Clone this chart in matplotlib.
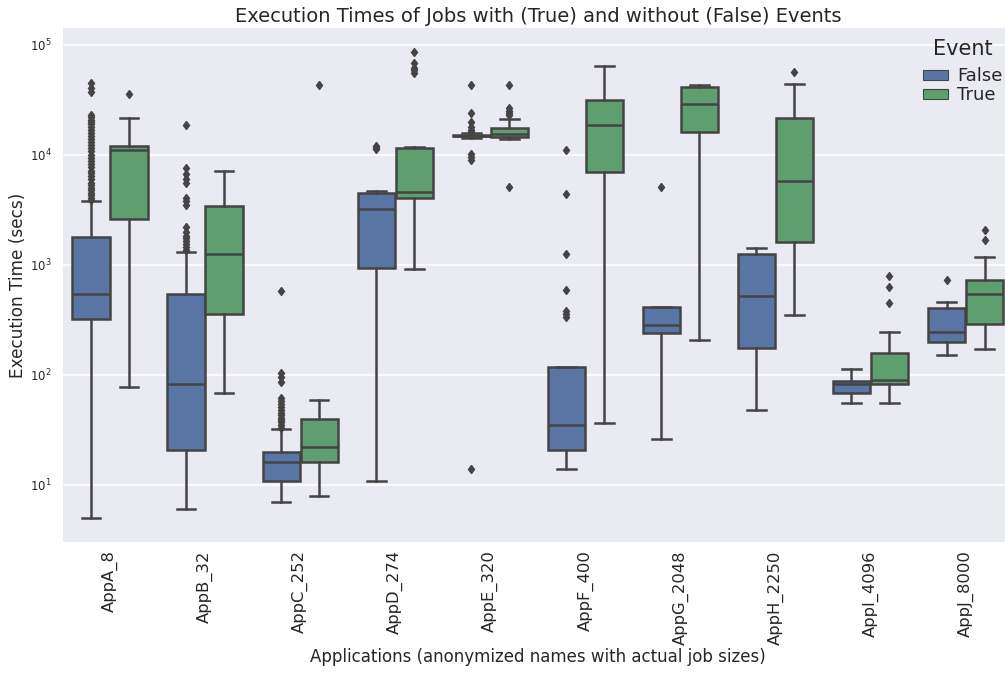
import matplotlib
matplotlib.use("Agg")
import matplotlib.pyplot as plt
from matplotlib.patches import Patch
import numpy as np

apps = ["AppA_8", "AppB_32", "AppC_252", "AppD_274", "AppE_320",
        "AppF_400", "AppG_2048", "AppH_2250", "AppI_4096", "AppJ_8000"]
hues = ["False", "True"]

# Event = False
false_wlo = [5, 6, 7, 10.9, 14200, 14, 26, 48, 56, 153]
false_q1 = [323, 20.6, 10.9, 933, 14900, 20.8, 243, 175, 68, 201]
false_med = [545, 82.8, 16, 3250, 15000, 34.9, 283, 526, 82.8, 246]
false_q3 = [1787, 545, 19.8, 4490, 15100, 118, 418, 1259, 87.8, 406]
false_whi = [3846, 1312, 32, 4710, 15950, 118, 418, 1420, 113, 461]
false_fliers = [
    [3900, 4100, 4300, 4500, 4800, 5000, 5300, 5600, 6000, 6400, 6800, 7200,
     7700, 8200, 8800, 9400, 10000, 10800, 11500, 12300, 13000, 14000, 15000,
     16000, 17000, 18000, 19000, 20000, 21000, 22000, 23000, 37700, 40500, 44900],
    [1370, 1450, 1550, 1650, 1750, 1850, 2000, 2215, 3510, 3800, 4070, 5560,
     6100, 6700, 7600, 18700],
    [33, 35, 37, 39, 41, 43, 45, 48, 51, 54, 58, 62, 87, 95, 105, 583],
    [11300, 11700, 12100],
    [14, 9000, 9600, 10300, 16300, 17000, 18000, 20100, 23900, 43300],
    [335, 360, 385, 589, 1250, 4450, 11100],
    [5150],
    [],
    [],
    [731],
]

# Event = True
true_wlo = [77.8, 68, 8, 914, 13970, 36.9, 209, 349, 56, 173]
true_q1 = [2636, 360, 16, 4040, 14700, 7050, 16300, 1620, 82, 291]
true_med = [11100, 1260, 22.2, 4610, 15600, 18600, 29100, 5850, 90, 548]
true_q3 = [12080, 3460, 40, 11500, 17700, 31600, 41200, 21500, 158, 731]
true_whi = [21700, 7200, 59, 11750, 21400, 64400, 43500, 44500, 248, 1190]
true_fliers = [
    [35900],
    [],
    [43300],
    [56000, 59000, 62000, 68200, 85800],
    [5150, 23100, 24000, 25000, 26600, 43300],
    [],
    [],
    [56500],
    [454, 636, 794],
    [1690, 2080],
]

colors = ["#5875a4", "#5f9e6e"]
line_col = "#444444"
text_col = "#262626"

fig = plt.figure(figsize=(10.05, 6.73), dpi=100)
ax = fig.add_axes([0.0622, 0.1947, 0.9458, 0.7637])
ax.set_facecolor("#EAEAF2")
for s in ax.spines.values():
    s.set_visible(False)
ax.set_yscale("log")
ax.grid(True, which="major", axis="y", color="white", linewidth=1.2)
ax.set_axisbelow(True)

groups = [
    (false_wlo, false_q1, false_med, false_q3, false_whi, false_fliers),
    (true_wlo, true_q1, true_med, true_q3, true_whi, true_fliers),
]
offsets = [-0.2, 0.2]
for h, (wlo, q1, med, q3, whi, fl) in enumerate(groups):
    stats = []
    for i in range(len(apps)):
        stats.append(dict(whislo=wlo[i], q1=q1[i], med=med[i], q3=q3[i],
                          whishi=whi[i], fliers=fl[i]))
    pos = np.arange(len(apps)) + offsets[h]
    ax.bxp(stats, positions=pos, widths=0.392, patch_artist=True,
           showfliers=True, manage_ticks=False,
           boxprops=dict(facecolor=colors[h], edgecolor=line_col, linewidth=1.8),
           medianprops=dict(color=line_col, linewidth=1.8),
           whiskerprops=dict(color=line_col, linewidth=1.8),
           capprops=dict(color=line_col, linewidth=1.8),
           flierprops=dict(marker="d", markerfacecolor=line_col,
                           markeredgecolor=line_col, markersize=4.5,
                           linestyle="none"))

ax.set_xlim(-0.5, len(apps) - 0.5)
ax.set_ylim(3.03, 1.427e5)
ax.set_xticks(np.arange(len(apps)))
ax.set_xticklabels(apps, rotation=90, fontsize=11.8, color=text_col)
ax.tick_params(axis="y", labelsize=8.5, colors=text_col, length=0, pad=8)
ax.tick_params(axis="x", length=0, pad=6)
ax.minorticks_off()
ax.set_ylabel("Execution Time (secs)", fontsize=12.2, color=text_col, labelpad=2)
ax.set_xlabel("Applications (anonymized names with actual job sizes)",
              fontsize=12, color=text_col, labelpad=2)
ax.set_title("Execution Times of Jobs with (True) and without (False) Events",
             fontsize=14, color=text_col, pad=4)

handles = [Patch(facecolor=colors[k], edgecolor=line_col, linewidth=0.8, label=hues[k])
           for k in range(2)]
leg = ax.legend(handles=handles, title="Event", loc="upper right",
                bbox_to_anchor=(1.006, 1.010), frameon=False, fontsize=13,
                title_fontsize=15, handlelength=1.4, handleheight=0.5,
                labelspacing=0.05, handletextpad=0.5)
leg._legend_box.sep = 6
for t in leg.get_texts():
    t.set_color(text_col)
leg.get_title().set_color(text_col)

fig.savefig("out.png", dpi=100)
